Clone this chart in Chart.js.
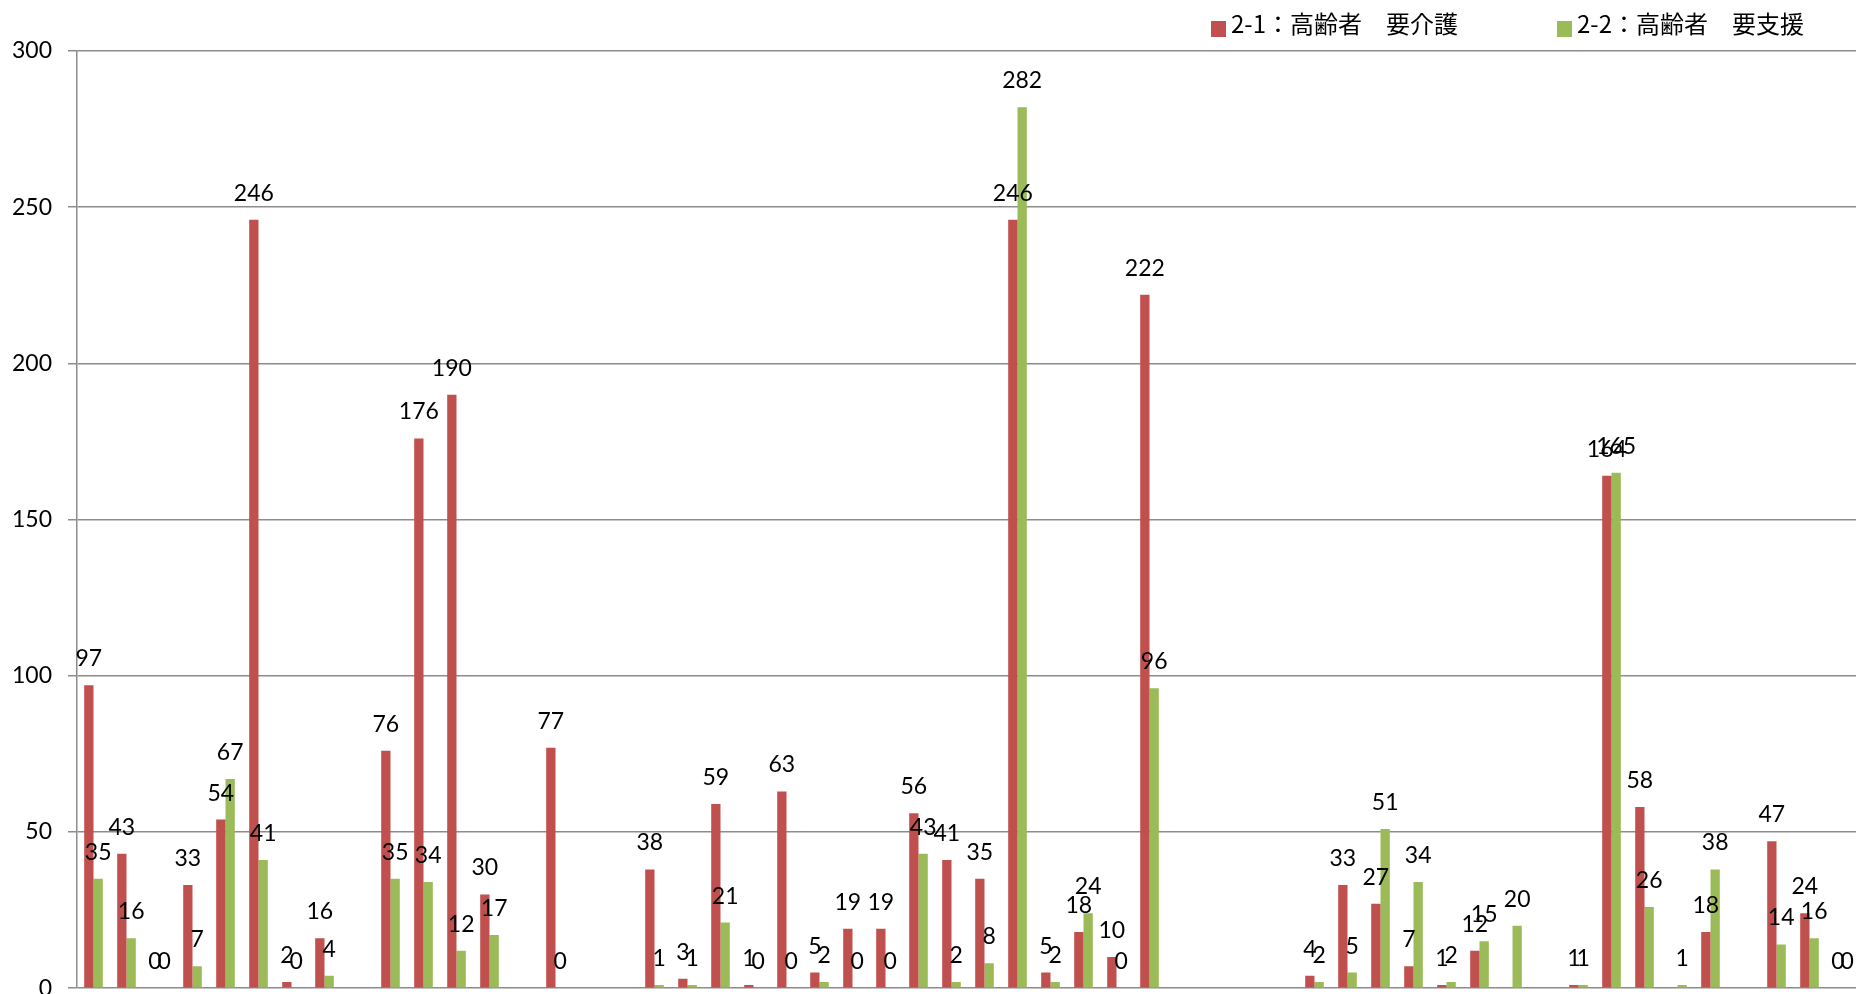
<!DOCTYPE html>
<html>
<head>
<meta charset="utf-8">
<script src="https://cdn.jsdelivr.net/npm/chart.js@4.4.1/dist/chart.umd.min.js"></script>
<style>
  html, body { margin: 0; padding: 0; background: #ffffff; overflow: hidden; }
  #c { position: absolute; left: 0; top: 0; }
</style>
</head>
<body>
<canvas id="c" width="1862" height="1018" style="width:1862px;height:1018px"></canvas>
<script>
// ---- data ----
const categories = ["1","2","3","4","5","6","7","8","9","10","11","12","13","14","15","16","17","18","19","20","21","22","23","24","25","26","27","28","29","30","31","32","33","34","35","36","37","38","39","40","41","42","43","44","45","46","47","48","49","50","51","52","53","54"];
const seriesNames = ["2-1：高齢者　要介護", "2-2：高齢者　要支援"];
const kaigo = [97,43,0,33,54,246,2,16,null,76,176,190,30,null,77,null,null,38,3,59,1,63,5,19,19,56,41,35,246,5,18,10,222,null,null,null,null,4,33,27,7,1,12,null,null,1,164,58,null,18,null,47,24,0];
const shien = [35,16,0,7,67,41,0,4,null,35,34,12,17,null,0,null,null,1,1,21,0,0,2,0,0,43,2,8,282,2,24,0,96,null,null,null,null,2,5,51,34,2,15,20,null,1,165,26,1,38,null,14,16,0];
const yTicks = [0, 50, 100, 150, 200, 250, 300];
const seriesColors = ["#C0504D", "#9BBB59"];

// value labels above bars
const valueLabels = {
  id: 'valueLabels',
  afterDatasetsDraw(chart) {
    const ctx = chart.ctx;
    ctx.save();
    ctx.font = '23px Lato';
    ctx.fillStyle = '#000000';
    ctx.textAlign = 'center';
    ctx.textBaseline = 'alphabetic';
    chart.data.datasets.forEach((ds, i) => {
      const meta = chart.getDatasetMeta(i);
      meta.data.forEach((el, j) => {
        const v = ds.data[j];
        if (v === null || v === undefined) return;
        ctx.fillText(String(v), el.x, el.y - 19);
      });
    });
    ctx.restore();
  }
};

// legend drawn at top right
const topLegend = {
  id: 'topLegend',
  afterDraw(chart) {
    const ctx = chart.ctx;
    const starts = [1211, 1557];
    ctx.save();
    ctx.font = '24px "Noto Sans CJK JP"';
    ctx.textAlign = 'left';
    ctx.textBaseline = 'alphabetic';
    chart.data.datasets.forEach((ds, i) => {
      const x = starts[i];
      ctx.fillStyle = ds.backgroundColor;
      ctx.fillRect(x, 21, 15, 16);
      ctx.fillStyle = '#000000';
      ctx.fillText(ds.label, x + 20, 33);
    });
    ctx.restore();
  }
};

new Chart(document.getElementById('c'), {
  type: 'bar',
  data: {
    labels: categories,
    datasets: [
      { label: seriesNames[0], data: kaigo, backgroundColor: seriesColors[0], categoryPercentage: 0.564, barPercentage: 1.0 },
      { label: seriesNames[1], data: shien, backgroundColor: seriesColors[1], categoryPercentage: 0.564, barPercentage: 1.0 }
    ]
  },
  options: {
    responsive: false,
    maintainAspectRatio: false,
    devicePixelRatio: 1,
    animation: false,
    layout: { padding: { top: 51, right: 3, bottom: 0, left: 0 } },
    plugins: {
      legend: { display: false },
      tooltip: { enabled: false }
    },
    scales: {
      x: { display: false },
      y: {
        min: 0,
        max: 300,
        afterBuildTicks(scale) { scale.ticks = yTicks.map(v => ({ value: v })); },
        afterFit(scale) { scale.width = 77; },
        ticks: { font: { family: 'Lato', size: 23 }, color: '#000000', padding: 16 },
        grid: { color: '#8c8c8c', lineWidth: 1.5, tickLength: 9, drawTicks: true },
        border: { display: true, color: '#8c8c8c', width: 1.5 }
      }
    }
  },
  plugins: [valueLabels, topLegend]
});
</script>
</body>
</html>
